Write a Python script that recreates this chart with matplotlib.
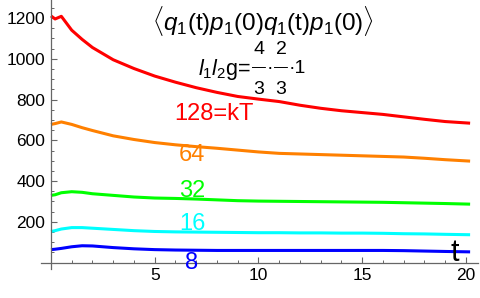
import matplotlib
matplotlib.use('Agg')
import matplotlib.pyplot as plt
from matplotlib.ticker import MultipleLocator

plt.rcParams['font.family'] = ['Liberation Sans', 'DejaVu Sans']
plt.rcParams['mathtext.fontset'] = 'custom'
plt.rcParams['mathtext.rm'] = 'Liberation Sans'
plt.rcParams['mathtext.it'] = 'Liberation Sans:italic'

# time grid and correlator values
t = [0, 0.2, 0.5, 1, 1.5, 2, 3, 4, 5, 6, 7, 8, 9, 10, 11, 12, 13, 14, 15, 16, 17, 18, 19, 20.2]
kT128 = [1210, 1195, 1208, 1140, 1095, 1055, 995, 952, 915, 885, 858, 835, 815, 802,
         790, 772, 757, 745, 736, 727, 715, 703, 692, 684]
kT64 = [678, 682, 690, 678, 662, 648, 622, 604, 589, 578, 569, 561, 552, 543,
        536, 533, 530, 527, 524, 521, 518, 512, 505, 498]
kT32 = [330, 333, 343, 348, 345, 338, 330, 322, 317, 315, 312, 308, 304, 302,
        301, 300, 299, 298, 297, 296, 294, 292, 290, 287]
kT16 = [153, 157, 165, 172, 172, 169, 163, 157, 153, 151, 150, 149, 148, 147,
        147, 146, 146, 145, 145, 144, 142, 141, 139, 137]
kT8 = [64, 66, 70, 78, 83, 82, 74, 68, 64, 62, 61, 60, 60, 60,
       60, 60, 60, 60, 60, 60, 59, 57, 55, 53]

series = [kT128, kT64, kT32, kT16, kT8]
labels = ['128=kT', '64', '32', '16', '8']
colors = ['#FF0000', '#FF8000', '#00FF00', '#00FFFF', '#0000FF']
label_xy = [(214, 114), (192, 155), (192, 191), (192, 224), (192, 263)]

fig = plt.figure(figsize=(4.8, 2.98), dpi=100)
W, H = 480, 298
ax = fig.add_axes([41 / W, 1 - 269 / H, (478 - 41) / W, 269 / H])


def px(x, y):
    return (x / W, 1 - y / H)


for y, c in zip(series, colors):
    ax.plot(t, y, color=c, lw=2.2, solid_capstyle='butt')

ax.set_xlim(-0.48, 20.58)
ax.set_ylim(-31, 1288)

for s in ['top', 'right']:
    ax.spines[s].set_visible(False)
ax.spines['left'].set_position(('data', 0))
ax.spines['bottom'].set_position(('data', 0))
for s in ['left', 'bottom']:
    ax.spines[s].set_color('#666666')
    ax.spines[s].set_linewidth(0.9)

ax.xaxis.set_minor_locator(MultipleLocator(1))
ax.yaxis.set_minor_locator(MultipleLocator(50))
ax.set_xticks([5, 10, 15, 20])
ax.set_yticks([200, 400, 600, 800, 1000, 1200])
ax.tick_params(which='both', direction='in', color='#666666', labelsize=12.5, pad=4)
ax.tick_params(which='major', length=4, width=0.8)
ax.tick_params(which='minor', length=2.5, width=0.7)

for lab, c, (x, y) in zip(labels, colors, label_xy):
    ax.text(*px(x, y), lab, transform=fig.transFigure, color=c, fontsize=17,
            ha='center', va='center', clip_on=True)

# title / annotations
fig.text(*px(263, 21), r'$\langle q_1(\mathrm{t})p_1(0)q_1(\mathrm{t})p_1(0)\rangle$',
         fontsize=17.5, ha='center', va='center')
fig.text(*px(251, 70), r'$l_1l_2\mathrm{g}$=', fontsize=15.5, ha='right', va='center')
for x, num in [(259, '4'), (281, '2')]:
    fig.text(*px(x, 50), num, fontsize=14, ha='center', va='center')
    fig.text(*px(x, 90), '3', fontsize=14, ha='center', va='center')
    fig.text(*px(x, 67), '\u2014', fontsize=10, ha='center', va='center')
fig.text(*px(270, 69), '\u00b7', fontsize=14, ha='center', va='center')
fig.text(*px(289, 69), '\u00b71', fontsize=14, ha='left', va='center')

fig.text(*px(455, 253), 't', fontsize=22, ha='center', va='center')

fig.savefig('out.png', dpi=100)
